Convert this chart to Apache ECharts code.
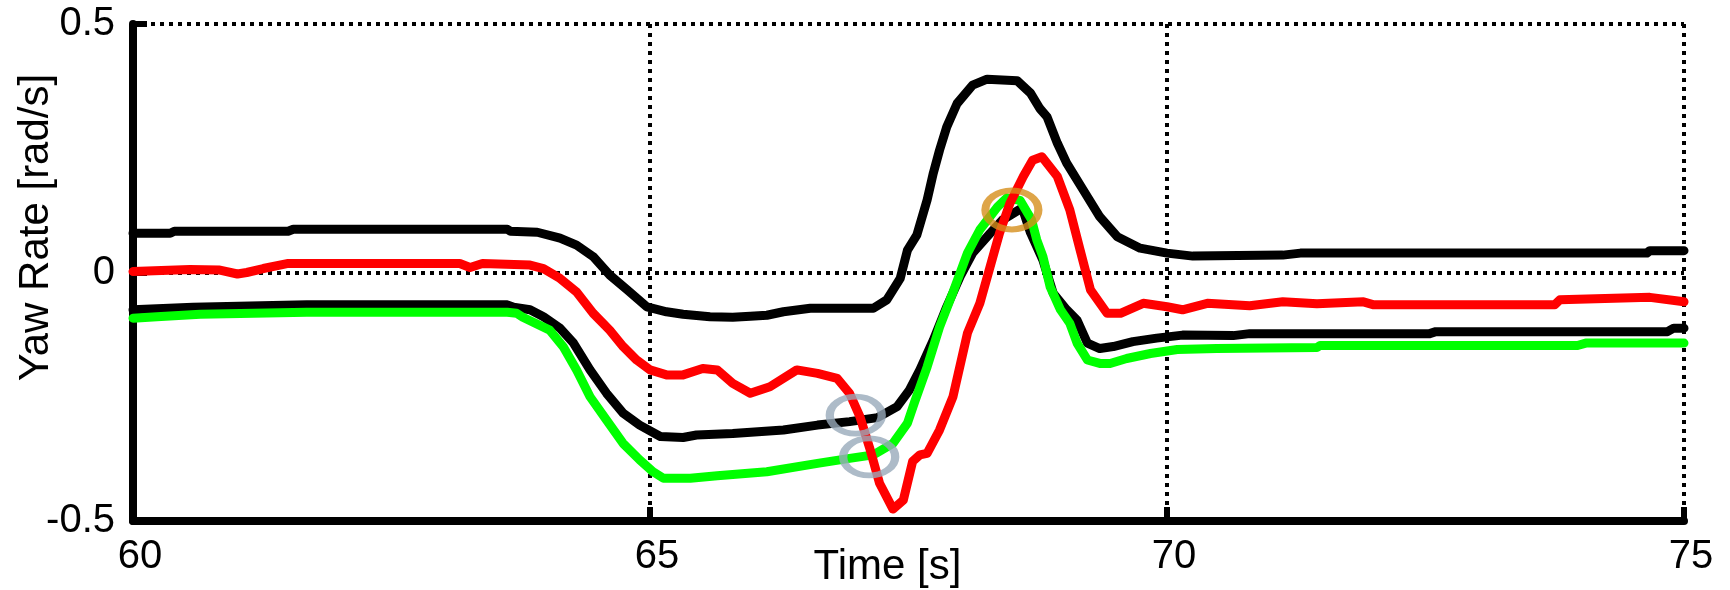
<!DOCTYPE html>
<html>
<head>
<meta charset="utf-8">
<script src="https://cdn.jsdelivr.net/npm/echarts@6/dist/echarts.min.js"></script>
<style>
html,body{margin:0;padding:0;background:#fff;}
#chart{width:1730px;height:590px;}
</style>
</head>
<body>
<div id="chart"></div>
<script>
// ---- Data (time in s, yaw rate in rad/s) ----
const xTicks = [60, 65, 70, 75];
const yTicks = [-0.5, 0, 0.5];

const upperT = [60, 60.36, 60.40, 61.50, 61.55, 63.62, 63.65, 63.91, 64.13, 64.29, 64.45, 64.61, 64.78, 64.97, 65.16, 65.32, 65.58, 65.80, 65.97, 66.13, 66.29, 66.55, 67.16, 67.29, 67.42, 67.49, 67.58, 67.68, 67.74, 67.80, 67.87, 67.97, 68.12, 68.26, 68.55, 68.68, 68.77, 68.84, 68.94, 69.03, 69.19, 69.35, 69.52, 69.74, 70.00, 70.25, 71.12, 71.29, 74.64, 74.67, 75.00];
const upperV = [0.079, 0.079, 0.083, 0.083, 0.087, 0.087, 0.083, 0.081, 0.069, 0.055, 0.032, -0.005, -0.035, -0.069, -0.079, -0.084, -0.089, -0.090, -0.088, -0.086, -0.079, -0.072, -0.072, -0.055, -0.012, 0.045, 0.075, 0.146, 0.200, 0.246, 0.293, 0.340, 0.377, 0.389, 0.386, 0.361, 0.330, 0.313, 0.260, 0.220, 0.166, 0.112, 0.072, 0.049, 0.039, 0.033, 0.035, 0.039, 0.039, 0.044, 0.044];

const redT = [60, 60.55, 60.84, 61.01, 61.10, 61.26, 61.49, 63.16, 63.26, 63.38, 63.84, 63.97, 64.13, 64.29, 64.45, 64.61, 64.74, 64.87, 65.00, 65.16, 65.32, 65.51, 65.65, 65.80, 65.97, 66.16, 66.42, 66.62, 66.81, 66.93, 67.03, 67.13, 67.22, 67.35, 67.45, 67.54, 67.61, 67.68, 67.80, 67.93, 68.07, 68.19, 68.29, 68.38, 68.48, 68.61, 68.70, 68.79, 68.94, 69.06, 69.16, 69.26, 69.42, 69.55, 69.77, 70.00, 70.15, 70.39, 70.80, 71.12, 71.45, 71.90, 72.00, 73.75, 73.80, 74.67, 75.00];
const redV = [0.002, 0.006, 0.005, -0.003, 0.000, 0.008, 0.018, 0.018, 0.010, 0.018, 0.015, 0.008, -0.012, -0.039, -0.082, -0.116, -0.149, -0.176, -0.196, -0.206, -0.206, -0.193, -0.196, -0.223, -0.243, -0.230, -0.196, -0.203, -0.213, -0.243, -0.290, -0.357, -0.424, -0.476, -0.458, -0.380, -0.367, -0.364, -0.317, -0.250, -0.122, -0.062, 0.012, 0.079, 0.139, 0.193, 0.226, 0.233, 0.193, 0.126, 0.045, -0.035, -0.082, -0.082, -0.062, -0.069, -0.075, -0.062, -0.067, -0.059, -0.063, -0.059, -0.065, -0.065, -0.055, -0.050, -0.059];

const lowerT = [60, 60.58, 61.68, 63.62, 63.68, 63.84, 63.97, 64.13, 64.26, 64.42, 64.58, 64.74, 64.90, 65.10, 65.32, 65.45, 65.80, 66.29, 66.62, 66.93, 67.20, 67.39, 67.51, 67.61, 67.74, 67.87, 68.00, 68.12, 68.29, 68.41, 68.60, 68.68, 68.80, 68.90, 69.03, 69.13, 69.23, 69.35, 69.48, 69.67, 69.90, 70.15, 70.64, 70.80, 72.54, 72.60, 74.84, 74.90, 75.00];
const lowerV = [-0.075, -0.070, -0.065, -0.065, -0.070, -0.075, -0.089, -0.112, -0.142, -0.196, -0.243, -0.283, -0.307, -0.330, -0.332, -0.327, -0.324, -0.317, -0.307, -0.300, -0.292, -0.270, -0.236, -0.196, -0.136, -0.069, -0.008, 0.039, 0.079, 0.106, 0.130, 0.080, 0.025, -0.042, -0.075, -0.096, -0.142, -0.153, -0.149, -0.139, -0.132, -0.126, -0.127, -0.123, -0.123, -0.119, -0.119, -0.112, -0.112];

const greenT = [60, 60.23, 60.65, 61.68, 63.62, 63.71, 63.77, 64.03, 64.16, 64.29, 64.42, 64.58, 64.74, 64.90, 65.03, 65.13, 65.39, 65.65, 66.13, 66.62, 66.93, 67.16, 67.35, 67.49, 67.56, 67.68, 67.80, 67.93, 68.07, 68.19, 68.36, 68.45, 68.58, 68.69, 68.74, 68.80, 68.87, 68.97, 69.06, 69.13, 69.23, 69.35, 69.45, 69.61, 69.84, 70.10, 70.48, 71.45, 71.48, 73.97, 74.05, 75.00];
const greenV = [-0.092, -0.089, -0.084, -0.080, -0.080, -0.082, -0.090, -0.116, -0.149, -0.196, -0.250, -0.297, -0.344, -0.377, -0.401, -0.414, -0.414, -0.409, -0.401, -0.384, -0.374, -0.367, -0.344, -0.303, -0.260, -0.190, -0.110, -0.040, 0.039, 0.086, 0.132, 0.150, 0.145, 0.106, 0.066, 0.032, -0.029, -0.075, -0.102, -0.142, -0.176, -0.183, -0.183, -0.173, -0.163, -0.155, -0.153, -0.151, -0.147, -0.147, -0.142, -0.142];

// annotation ellipses (data coordinates)
const greyMarks = [[66.99, -0.287], [67.12, -0.371]];
const orangeMarks = [[68.50, 0.126]];

function pairs(t, v) { return t.map((x, i) => [x, v[i]]); }

const chart = echarts.init(document.getElementById('chart'), null, { renderer: 'canvas' });
const FONT = 'Liberation Sans, Arial, sans-serif';
const dotted = { color: '#000', width: 4, type: [4, 5] };

function lineSeries(t, v, color) {
  return {
    type: 'line', data: pairs(t, v), showSymbol: false, symbol: 'none',
    lineStyle: { color: color, width: 9, join: 'round', cap: 'round' },
    silent: true, animation: false, z: 3
  };
}

chart.setOption({
  backgroundColor: '#fff',
  animation: false,
  grid: { left: 133, right: 46, top: 24, bottom: 69, containLabel: false, outerBoundsMode: 'none' },
  xAxis: {
    type: 'value', min: 60, max: 75, interval: 5,
    name: 'Time [s]', nameLocation: 'middle', nameGap: 25, nameMoveOverlap: false,
    nameTextStyle: { fontFamily: FONT, fontSize: 42, color: '#000', padding: [0, 42, 0, 0] },
    axisLine: { show: true, onZero: false, lineStyle: { color: '#000', width: 8 } },
    axisTick: { show: true, inside: true, length: 14, lineStyle: { color: '#000', width: 6 } },
    axisLabel: { fontFamily: FONT, fontSize: 40, color: '#000', margin: 16, padding: [0, 0, 0, 14],
      formatter: v => (xTicks.indexOf(v) >= 0 ? String(v) : '') },
    splitLine: { show: true, lineStyle: dotted }
  },
  yAxis: {
    type: 'value', min: -0.5, max: 0.5, interval: 0.5,
    name: 'Yaw Rate [rad/s]', nameLocation: 'middle', nameGap: 76, nameRotate: 90, nameMoveOverlap: false,
    nameTextStyle: { fontFamily: FONT, fontSize: 42, color: '#000', padding: [0, 0, 0, 90] },
    axisLine: { show: true, onZero: false, lineStyle: { color: '#000', width: 8 } },
    axisTick: { show: true, inside: true, length: 14, lineStyle: { color: '#000', width: 6 } },
    axisLabel: { fontFamily: FONT, fontSize: 40, color: '#000', margin: 18,
      formatter: v => (yTicks.indexOf(v) >= 0 ? String(v) : '') },
    splitLine: { show: true, lineStyle: dotted }
  },
  series: [
    lineSeries(upperT, upperV, '#000000'),
    lineSeries(lowerT, lowerV, '#000000'),
    lineSeries(greenT, greenV, '#00FF00'),
    lineSeries(redT, redV, '#FF0000'),
    {
      type: 'scatter', data: greyMarks, symbol: 'circle', symbolSize: [52, 37],
      itemStyle: { color: 'rgba(0,0,0,0)', borderColor: '#98AABA', borderWidth: 7 },
      silent: true, z: 5
    },
    {
      type: 'scatter', data: orangeMarks, symbol: 'circle', symbolSize: [53, 39],
      itemStyle: { color: 'rgba(0,0,0,0)', borderColor: '#D68F1C', borderWidth: 7 },
      silent: true, z: 5
    }
  ]
});
</script>
</body>
</html>
